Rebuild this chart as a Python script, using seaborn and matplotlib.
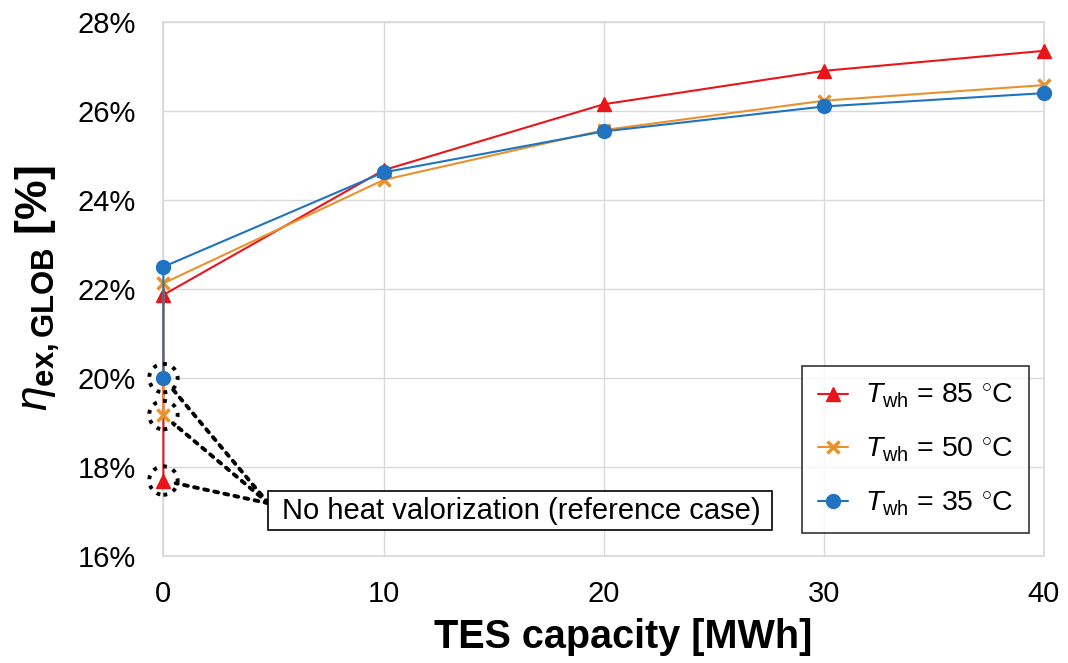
import pandas as pd
import matplotlib
matplotlib.use("Agg")
import matplotlib.pyplot as plt
import matplotlib.patches as mpatches
from matplotlib import font_manager
import seaborn as sns

# Data (exergy efficiency in %)
tes_capacity = [0, 0, 10, 20, 30, 40]
eta_85 = [17.7, 21.87, 24.67, 26.15, 26.9, 27.35]
eta_50 = [19.17, 22.13, 24.45, 25.57, 26.23, 26.58]
eta_35 = [20.0, 22.5, 24.62, 25.54, 26.1, 26.4]
labels = [r"$T_{\rm wh}$ = 85 $^{\circ}$C",
          r"$T_{\rm wh}$ = 50 $^{\circ}$C",
          r"$T_{\rm wh}$ = 35 $^{\circ}$C"]
y_ticks = [16, 18, 20, 22, 24, 26, 28]
x_ticks = [0, 10, 20, 30, 40]

sns.set_theme(style="white")
plt.rcParams["font.family"] = ["Liberation Sans", "DejaVu Sans"]
plt.rcParams["mathtext.fontset"] = "custom"
plt.rcParams["mathtext.rm"] = "Liberation Sans"
plt.rcParams["mathtext.it"] = "Liberation Sans:italic"
plt.rcParams["mathtext.bf"] = "Liberation Sans:bold"
for key in ["text.color", "axes.labelcolor", "xtick.color", "ytick.color"]:
    plt.rcParams[key] = "black"

# x label in the original looks like a narrow bold face
names = {f.name for f in font_manager.fontManager.ttflist}
if "Liberation Sans Narrow" in names:
    xlab_font, xlab_size = "Liberation Sans Narrow", 34
else:
    xlab_font, xlab_size = "Liberation Sans", 28.5

rows = []
for lab, vals in zip(labels, [eta_85, eta_50, eta_35]):
    for x, y in zip(tes_capacity, vals):
        rows.append({"x": x, "y": y, "series": lab})
df = pd.DataFrame(rows)

colors = ["#e8161b", "#e8922e", "#1f73c0"]
markers = ["^", "x", "o"]

fig, ax = plt.subplots(figsize=(10.68, 6.63), dpi=100)
fig.subplots_adjust(left=0.153, right=0.9775, top=0.967, bottom=0.161)

for lab, c, m in zip(labels, colors, markers):
    d = df[df["series"] == lab]
    sns.lineplot(data=d, x="x", y="y", sort=False, estimator=None, color=c,
                 marker=m, markersize=10 if m != "x" else 9,
                 markeredgewidth=1 if m != "x" else 2.5,
                 markeredgecolor=c, linewidth=1.5, label=lab, ax=ax,
                 clip_on=False, zorder=3)

# dotted circles around the reference-case points
ref_y = [eta_85[0], eta_50[0], eta_35[0]]
ax.scatter([0, 0, 0], ref_y, s=420, facecolors="none", edgecolors="black",
           linestyles=":", linewidths=2.8, clip_on=False, zorder=4)

for yv in ref_y:
    ax.annotate("", xy=(0, yv), xytext=(4.77, 17.19),
                arrowprops=dict(arrowstyle="-", linestyle=":", lw=2.8,
                                color="black", shrinkA=0, shrinkB=9),
                zorder=4)

# annotation box
ax.add_patch(mpatches.Rectangle((4.77, 16.58), 22.88, 0.88, fc="white",
                                ec="black", lw=1.2, zorder=5))
ax.text(5.4, 17.02, "No heat valorization (reference case)", fontsize=21,
        va="center", ha="left", zorder=6)

ax.set_xlim(0, 40)
ax.set_ylim(16, 28)
ax.set_xticks(x_ticks)
ax.set_yticks(y_ticks)
ax.set_yticklabels([f"{t}%" for t in y_ticks])
ax.tick_params(axis="both", labelsize=21, length=0)
ax.tick_params(axis="y", pad=20)
ax.tick_params(axis="x", pad=17)
ax.grid(True, color="#d9d9d9", linewidth=1)
for s in ax.spines.values():
    s.set_color("#d9d9d9")

ax.set_xlabel("TES capacity [MWh]", fontsize=xlab_size, fontweight="bold",
              family=xlab_font)
ax.xaxis.set_label_coords(0.522, -0.115)
ax.set_ylabel(r"$\eta_{\mathbf{ex,GLOB}}$ [%]", fontsize=32, fontweight="bold")
ax.yaxis.set_label_coords(-0.115, 0.502)

leg = ax.legend(loc="lower right", bbox_to_anchor=(0.983, 0.043), fontsize=20.5,
                frameon=True, fancybox=False, edgecolor="black",
                borderpad=0.55, labelspacing=0.9, handlelength=1.05,
                handletextpad=0.6, borderaxespad=0)
leg.get_frame().set_linewidth(1.2)

plt.savefig("out.png", dpi=100)
